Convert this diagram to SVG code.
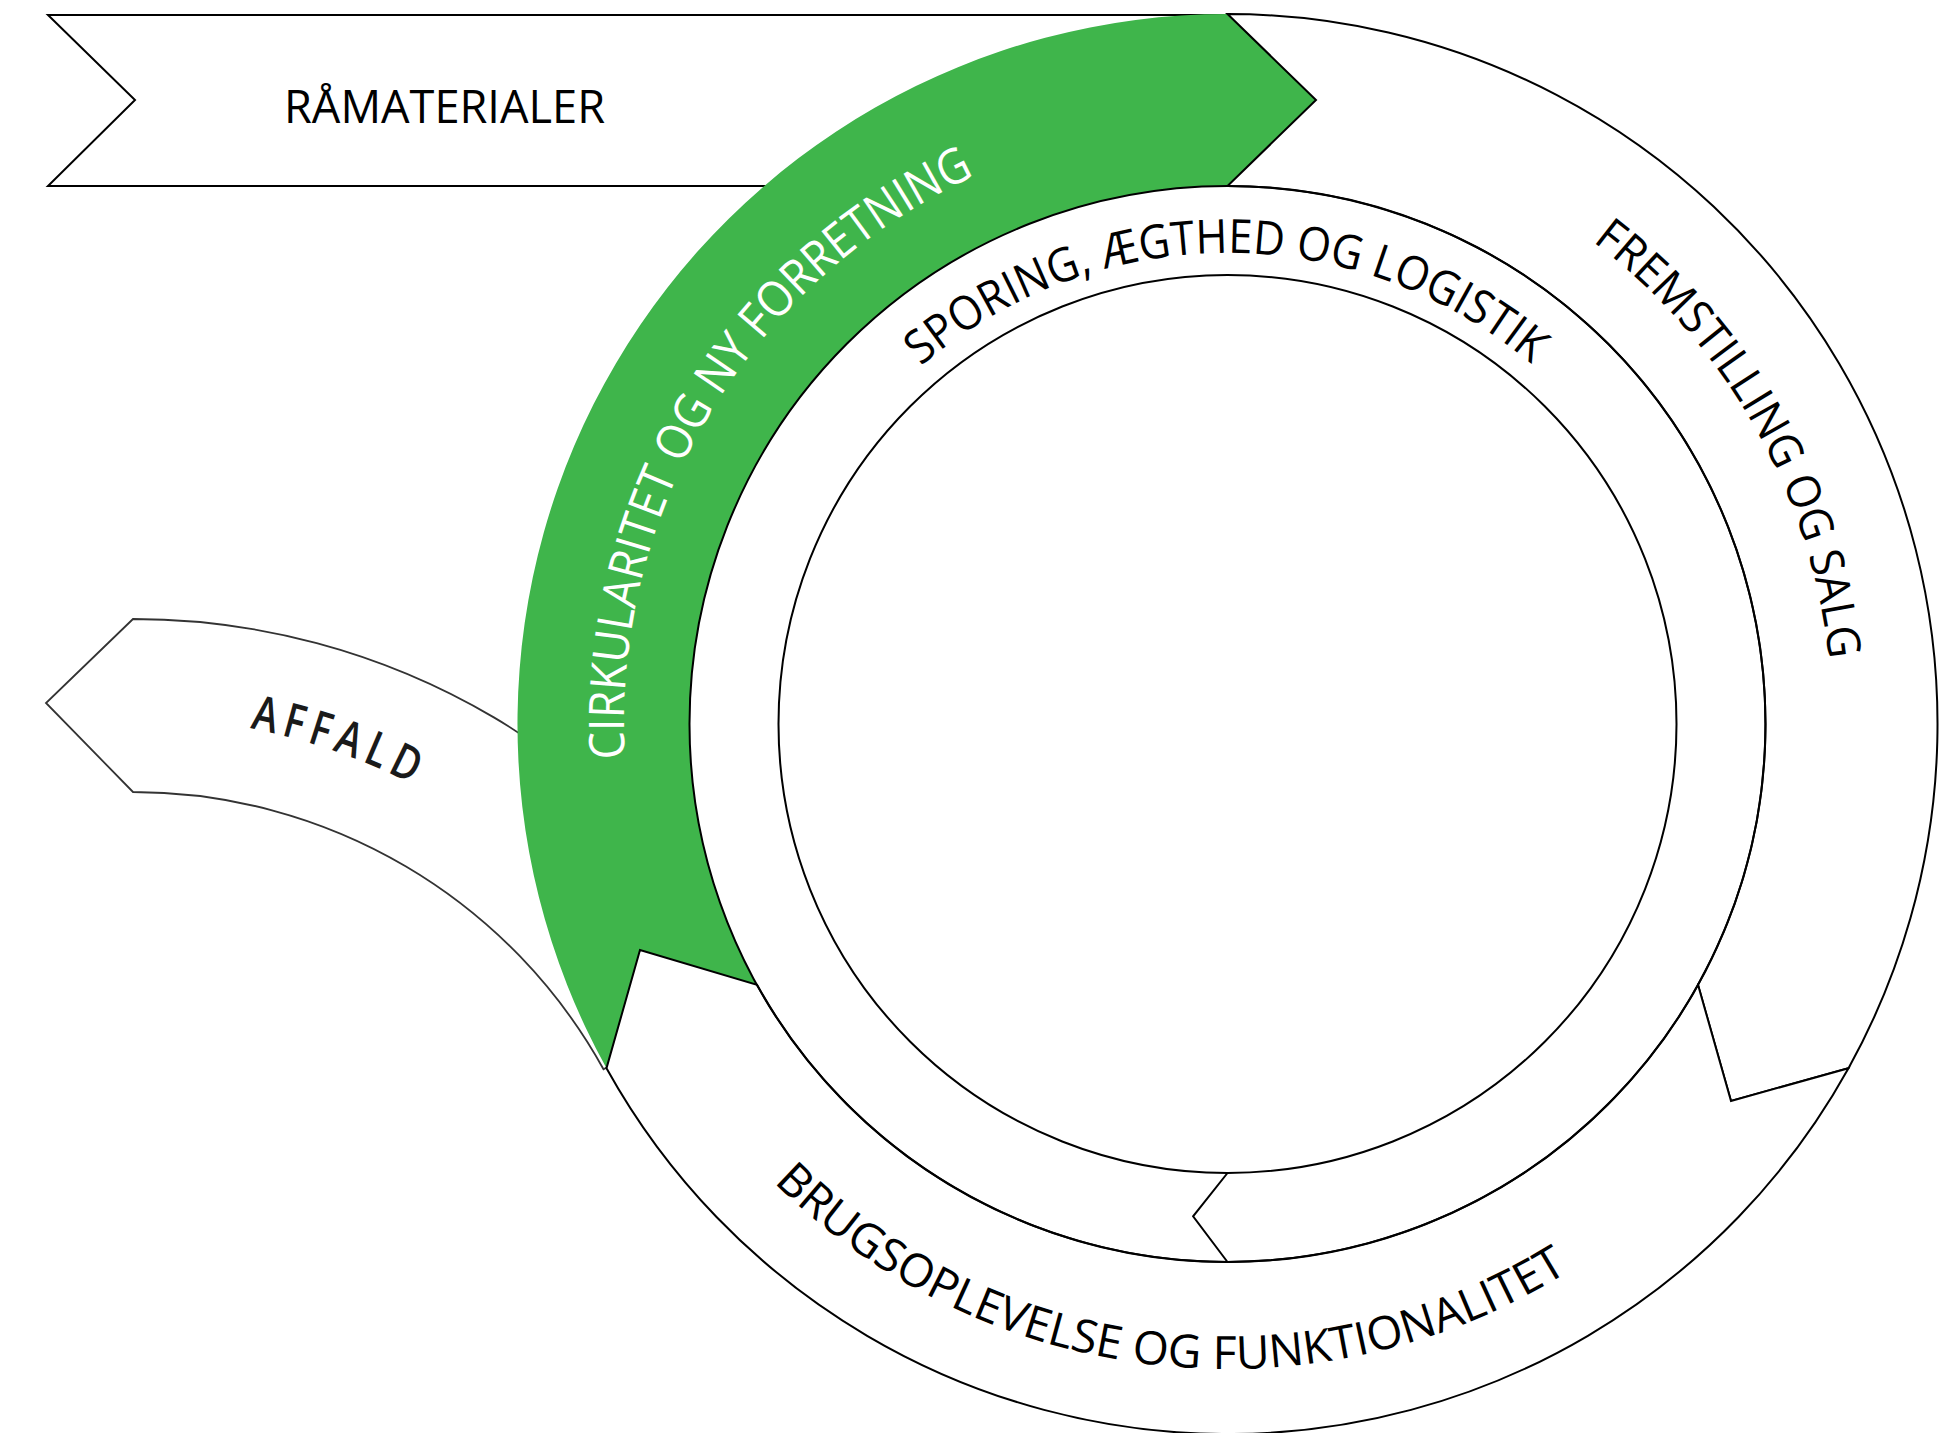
<svg xmlns="http://www.w3.org/2000/svg" width="1958" height="1433" viewBox="0 0 1958 1433">
<style>
.seg{fill:#fff;stroke:#000;stroke-width:2;stroke-linejoin:miter}
.gseg{fill:#fff;stroke:#333;stroke-width:1.8}
.green{fill:#3fb54b;stroke:none}
.line{fill:none;stroke:#000;stroke-width:2}
.lbl{font-family:"Open Sans","Liberation Sans",sans-serif;font-size:46px;fill:#000}
.wlbl{font-family:"Open Sans","Liberation Sans",sans-serif;font-size:49px;fill:#fff}
</style>
<defs>
<path id="pSpor" d="M 920.99 366.38 A 471 471 0 0 1 1534.01 366.38"/>
<path id="pFrem" d="M 1592.44 241.46 A 605 605 0 0 1 1828.85 657.61"/>
<path id="pBrug" d="M 773.81 1182.47 A 645 645 0 0 0 1566.43 1272.77"/>
<path id="pCirk" d="M 625.0 758.7 A 603.5 603.5 0 0 1 972.45 177.04"/>
<path id="pAff" d="M 249.97 728.26 A 613 613 0 0 1 416.05 786.26"/>
</defs>
<rect width="1958" height="1433" fill="#fff"/>
<g id="affald">
<path class="gseg" d="M 133 619 A 711 711 0 0 1 754.8 985.3 L 603.5 1069.2 A 538 538 0 0 0 133 792 L 46 703 Z"/>
<text class="lbl" style="font-size:48px;font-weight:600;fill:#1a1a1a;letter-spacing:8px"><textPath href="#pAff" textLength="178" lengthAdjust="spacingAndGlyphs">AFFALD</textPath></text>
</g>
<g id="ramaterialer">
<path class="seg" d="M 48 15 L 1227.5 15 L 1150 186 L 48 186 L 135 100 Z"/>
<text class="lbl" x="284" y="123" textLength="321" lengthAdjust="spacingAndGlyphs">RÅMATERIALER</text>
</g>
<g id="cirkularitet">
<path class="green" d="M 606.5 1068.2 A 710 710 0 0 1 1227.5 14 L 1316 100 L 1227.5 186 A 538 538 0 0 0 757.0 984.8 L 640 950 Z"/>
<text class="wlbl"><textPath href="#pCirk" textLength="722" lengthAdjust="spacingAndGlyphs">CIRKULARITET OG NY FORRETNING</textPath></text>
</g>
<g id="fremstilling">
<path class="seg" d="M 1227.5 14 A 710 710 0 0 1 1848.5 1068.2 L 1731 1101 L 1698.0 984.8 A 538 538 0 0 0 1227.5 186 L 1316 100 Z"/>
<text class="lbl"><textPath href="#pFrem" textLength="494" lengthAdjust="spacingAndGlyphs">FREMSTILLING OG SALG</textPath></text>
</g>
<g id="brugsoplevelse">
<path class="seg" d="M 1848.5 1068.2 A 710 710 0 0 1 606.5 1068.2 L 640 950 L 757.0 984.8 A 538 538 0 0 0 1698.0 984.8 L 1731 1101 Z"/>
<text class="lbl" style="font-size:46px"><textPath href="#pBrug" textLength="862" lengthAdjust="spacingAndGlyphs">BRUGSOPLEVELSE OG FUNKTIONALITET</textPath></text>
</g>
<g id="sporing">
<circle class="line" cx="1227.5" cy="724" r="538"/>
<circle class="line" cx="1227.5" cy="724" r="449"/>
<path class="line" d="M 1227.5 1173 L 1193.1 1216.3 L 1227.5 1262"/>
<text class="lbl" style="font-size:47px"><textPath href="#pSpor" textLength="664" lengthAdjust="spacingAndGlyphs">SPORING, ÆGTHED OG LOGISTIK</textPath></text>
</g>
<g id="connectors"></g>
</svg>
